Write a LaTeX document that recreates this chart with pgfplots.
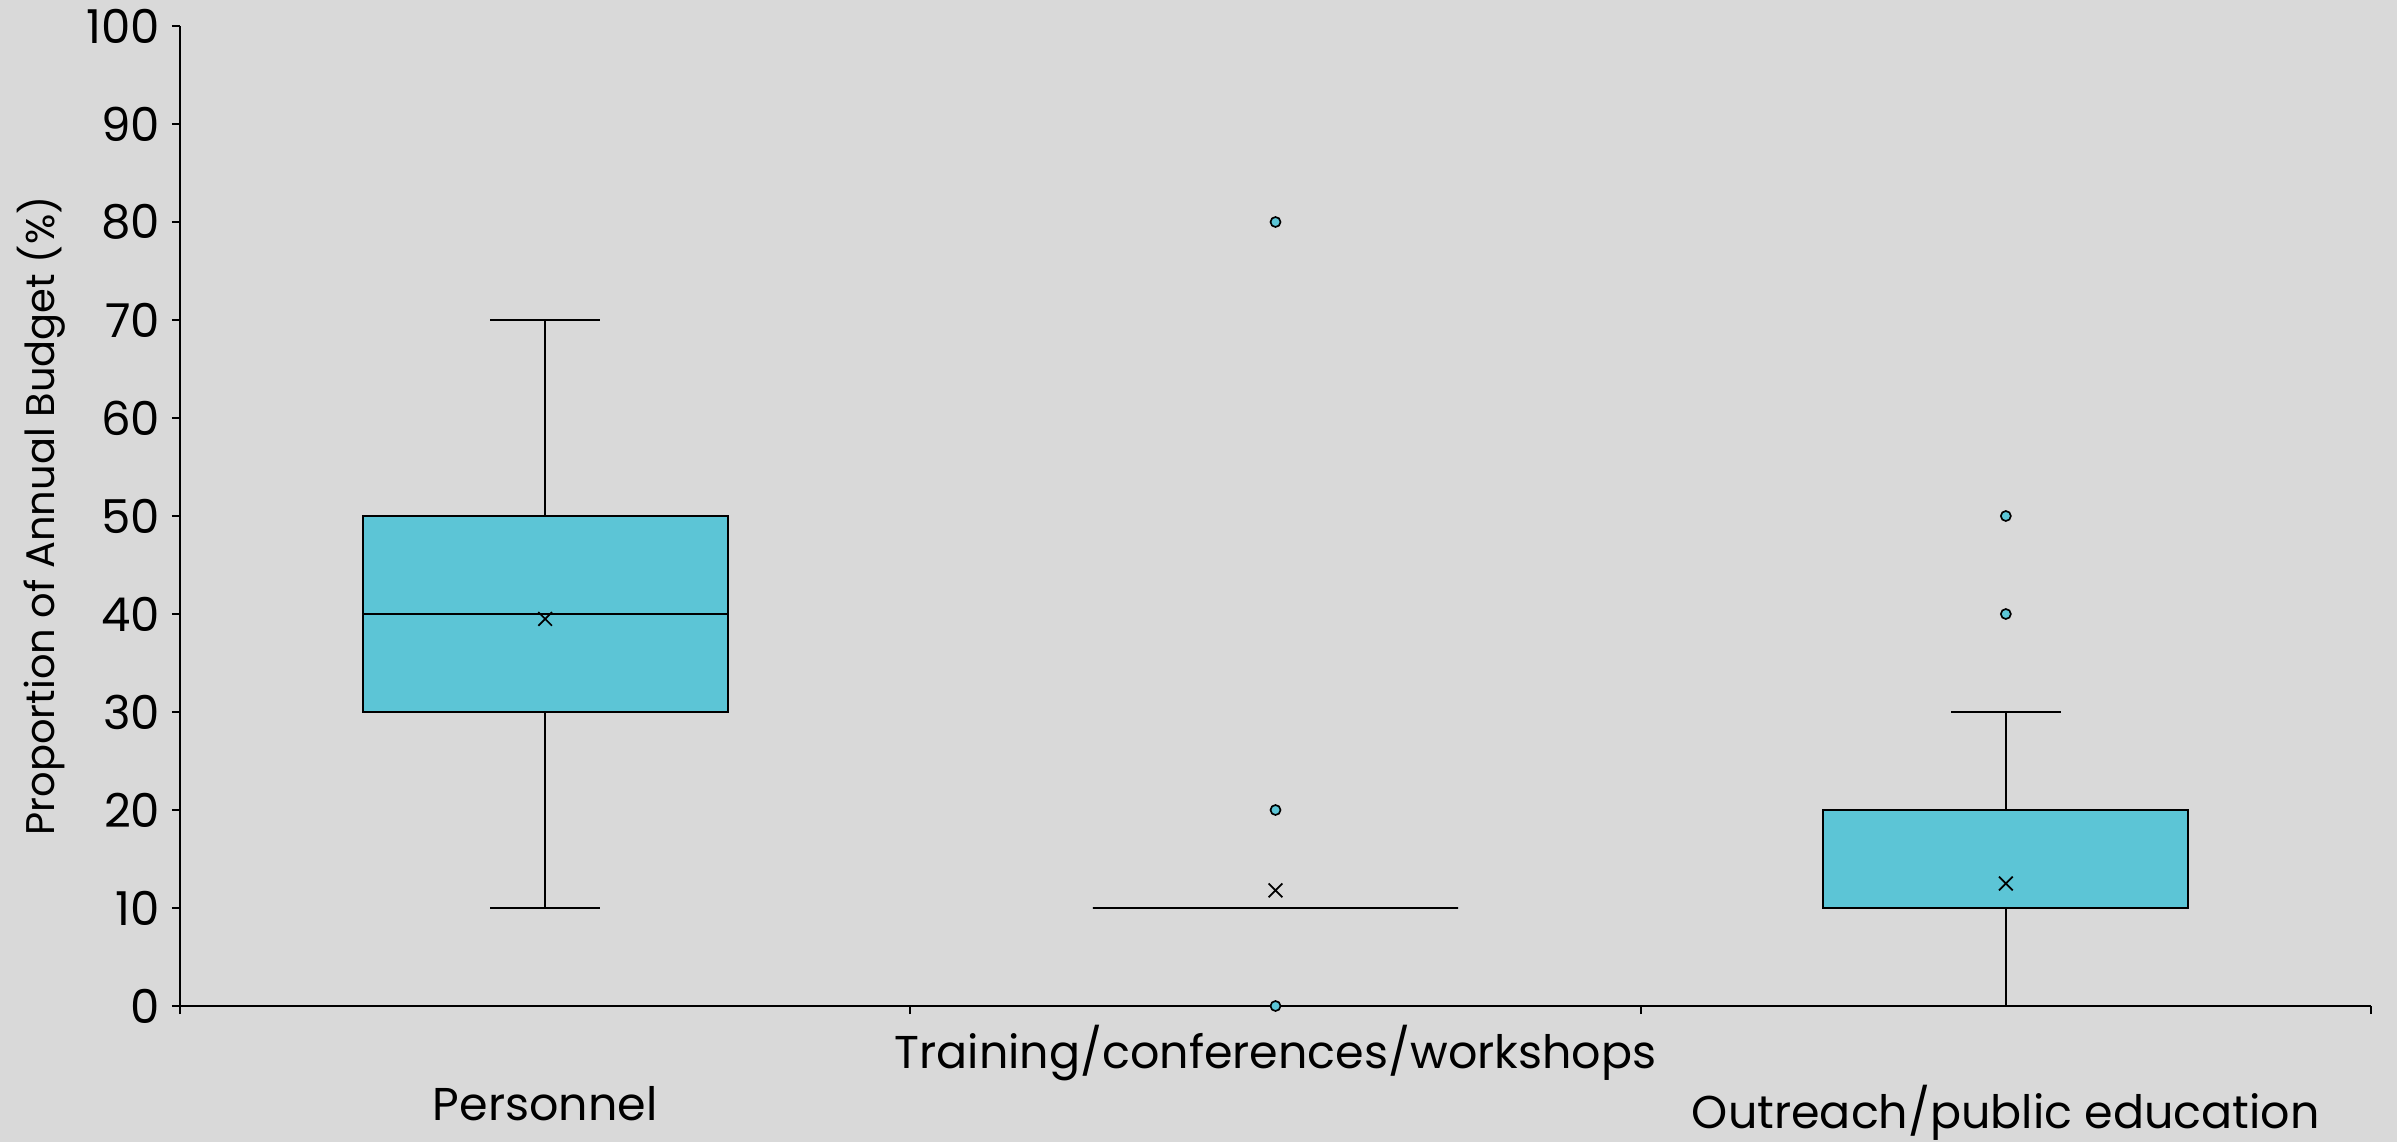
\documentclass[border=0pt]{standalone}
\usepackage{fontspec}
\setmainfont{Poppins}
\usepackage{pgfplots}
\pgfplotsset{compat=1.18}
\usepgfplotslibrary{statistics}

\definecolor{bg}{HTML}{D9D9D9}
\definecolor{boxcyan}{HTML}{5CC5D6}

\begin{document}
\begin{tikzpicture}
	% background and page size (1 px = 0.3pt)
	\fill[bg] (-54pt,-40.8pt) rectangle (665.1pt,301.8pt);
	\useasboundingbox (-54pt,-40.8pt) rectangle (665.1pt,301.8pt);
	\begin{axis}[
		at={(0,0)}, anchor=south west,
		scale only axis,
		width=657.3pt, height=294pt,
		xmin=0.5, xmax=3.5,
		ymin=0, ymax=100,
		axis x line=bottom, axis y line=left,
		axis line style={-, line width=0.8pt},
		tick align=outside,
		major tick length=2.4pt,
		tick style={black, line width=0.6pt},
		ytick={0,10,...,100},
		xtick={0.5,1.5,2.5,3.5},
		xticklabels={},
		extra x ticks={1,2,3},
		extra x tick labels={{\strut\\Personnel},{Training/conferences/workshops},{\strut\\Outreach/public education}},
		extra x tick style={major tick length=0pt, tick style={draw=none},
			xticklabel style={align=center, yshift=-2.3pt, font=\fontsize{13.8}{16.8}\selectfont}},
		yticklabel style={font=\fontsize{14}{17}\selectfont},
		/pgf/number format/assume math mode=true,
		ylabel={Proportion of Annual Budget (\%)},
		ylabel style={at={(axis description cs:-0.0634,0.5)}, anchor=center, font=\fontsize{12}{14}\selectfont},
		boxplot/draw direction=y,
		boxplot/box extend=0.5,
		boxplot/whisker extend=0.15,
		clip=false,
	]

	% Personnel
	\addplot[black, line width=0.6pt, fill=boxcyan, boxplot prepared={
		draw position=1,
		lower whisker=10, lower quartile=30, median=40,
		upper quartile=50, upper whisker=70}]
		coordinates {};

	% Training/conferences/workshops
	\addplot[black, line width=0.6pt, fill=boxcyan, boxplot prepared={
		draw position=2,
		lower whisker=10, lower quartile=10, median=10,
		upper quartile=10, upper whisker=10}]
		coordinates {};

	% Outreach/public education
	\addplot[black, line width=0.6pt, fill=boxcyan, boxplot prepared={
		draw position=3,
		lower whisker=0, lower quartile=10, median=10,
		upper quartile=20, upper whisker=30}]
		coordinates {};

	% outliers
	\addplot[only marks, mark=*, mark size=1.5pt, mark options={fill=boxcyan, draw=black, line width=0.5pt}]
		coordinates {(2,80) (2,20) (2,0) (3,50) (3,40)};

	% means
	\addplot[only marks, mark=x, mark size=2.9pt, mark options={black, line width=0.5pt}]
		coordinates {(1,39.5) (2,11.8) (3,12.5)};
	\end{axis}
\end{tikzpicture}
\end{document}
